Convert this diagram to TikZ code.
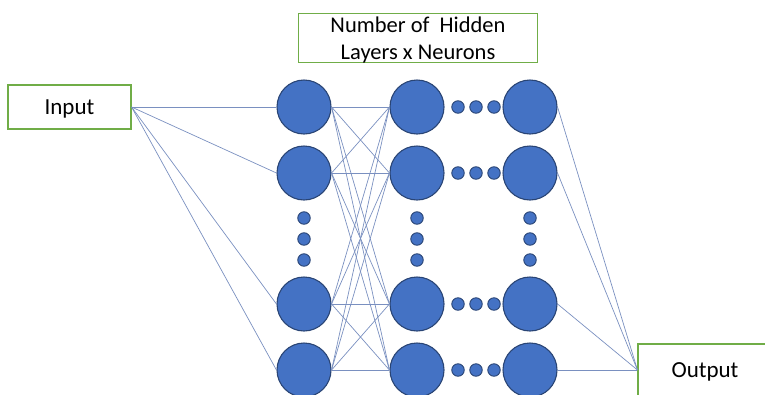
\documentclass[tikz,border=0pt]{standalone}
\usepackage{fontspec}
\setmainfont{Carlito}
\begin{document}
\begin{tikzpicture}[x=1pt,y=-1pt,
  neuron/.style={circle,draw=neuronedge,fill=neuronfill,line width=1.1pt,minimum size=54pt,inner sep=0pt},
  dot/.style={circle,draw=neuronedge,fill=neuronfill,line width=0.9pt,minimum size=12.5pt,inner sep=0pt},
  labelbox/.style={rectangle,draw=boxgreen,line width=1.1pt,fill=white,inner sep=0pt},
  boxtext/.style={font=\fontsize{23}{27}\selectfont,align=center},
  link/.style={draw=linkblue,line width=0.7pt}]
\definecolor{neuronfill}{HTML}{4472C4}
\definecolor{neuronedge}{HTML}{2A4575}
\definecolor{boxgreen}{HTML}{70AD47}
\definecolor{linkblue}{HTML}{7A90C0}
\useasboundingbox (0,0) rectangle (765,394);

% labelled boxes and their captions
\node[labelbox,minimum width=123pt,minimum height=44pt] (in) at (69.5,107) {};
\node[boxtext] (intext) at ([yshift=-1.5pt]in.center) {Input};
\node[labelbox,minimum width=239pt,minimum height=49pt] (title) at (418,38) {};
\node[boxtext,font=\fontsize{22.5}{27}\selectfont] (titletext) at ([yshift=-1.5pt]title.center) {Number of~~Hidden\\Layers x Neurons};
\node[labelbox,minimum width=134pt,minimum height=52pt] (out) at (705,370) {};
\node[boxtext] (outtext) at ([yshift=-2pt]out.center) {Output};

% neurons: three columns, four rows, with vertical ellipses
\foreach \c/\x in {1/304,2/417,3/530}{
  \foreach \r/\y in {1/107,2/173,3/304,4/370}{
    \node[neuron] (n\c\r) at (\x,\y) {};
  }
  \foreach \k/\y in {1/218,2/239,3/260}{
    \node[dot] (v\c\k) at (\x,\y) {};
  }
}
% horizontal ellipsis between the second and third columns
\foreach \r/\y in {1/107,2/173,3/304,4/370}{
  \foreach \k/\x in {1/458,2/476,3/494}{
    \node[dot] (h\r\k) at (\x,\y) {};
  }
}

% connections
\foreach \r in {1,...,4}{
  \draw[link] (in.east) -- (n1\r.west);
  \draw[link] (n3\r.east) -- (out.west);
  \foreach \s in {1,...,4}{
    \draw[link] (n1\r.east) -- (n2\s.west);
  }
}
\end{tikzpicture}
\end{document}
